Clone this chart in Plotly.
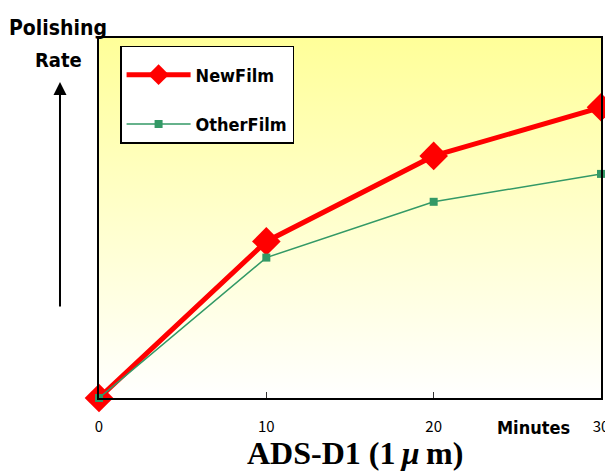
import plotly.graph_objects as go

minutes = [0, 10, 20, 30]
new_film = [0.0, 0.87, 1.345, 1.615]
other_film = [0.0, 0.78, 1.09, 1.245]
x_ticks = [0, 10, 20, 30]

fig = go.Figure()

# gradient background (yellow top -> white bottom)
fig.add_trace(go.Scatter(
    x=[0, 30, 30, 0, 0], y=[0, 0, 2, 2, 0], mode="none", fill="toself",
    fillgradient=dict(type="vertical", colorscale=[[0, "#FFFFFF"], [1, "#FFFF99"]]),
    hoverinfo="skip", showlegend=False))

fig.add_trace(go.Scatter(
    x=minutes, y=new_film, name="NewFilm", mode="lines+markers",
    line=dict(color="#FF0000", width=5),
    marker=dict(symbol="diamond", size=22, color="#FF0000"),
    cliponaxis=False, legendgroup="a"))
fig.add_trace(go.Scatter(
    x=minutes, y=other_film, name="OtherFilm", mode="lines+markers",
    line=dict(color="#339966", width=1.5),
    marker=dict(symbol="square", size=8, color="#339966"),
    cliponaxis=False, legendgroup="b"))

GOTHIC = "DejaVu Sans Condensed, DejaVu Sans"

fig.update_layout(
    width=613, height=473,
    margin=dict(l=91, r=20, t=30, b=83),
    paper_bgcolor="white", plot_bgcolor="white",
    font=dict(family="Noto Sans CJK JP", color="black"),
    showlegend=True,
    legend=dict(x=0.042, y=0.978, xanchor="left", yanchor="top",
                bgcolor="white", bordercolor="black", borderwidth=1.5,
                font=dict(size=18, family=GOTHIC, weight="bold"),
                title=dict(text=" ", font=dict(size=7)),
                tracegroupgap=23, itemwidth=64),
    xaxis=dict(range=[0, 30], tickvals=x_ticks, ticks="inside", ticklen=6,
               tickcolor="#333", showline=True, linecolor="black", linewidth=2,
               mirror=True, showgrid=False, zeroline=False,
               ticklabelstandoff=14,
               tickfont=dict(size=15, family="Noto Sans CJK JP")),
    yaxis=dict(range=[0, 2], dtick=1, showticklabels=False, ticks="",
               showline=True, linecolor="black", linewidth=2, mirror=True,
               showgrid=True, gridcolor="black", gridwidth=1.5, zeroline=False),
)

fig.add_annotation(text="Polishing", xref="paper", yref="paper", x=-0.082, y=1.028,
                   xanchor="center", yanchor="middle",
                   showarrow=False, font=dict(size=21, family=GOTHIC, weight="bold"))
fig.add_annotation(text="Rate", xref="paper", yref="paper", x=-0.08, y=0.939,
                   xanchor="center", yanchor="middle",
                   showarrow=False, font=dict(size=20, family=GOTHIC, weight="bold"))
fig.add_annotation(text="", xref="paper", yref="paper", x=-0.0777, y=0.878,
                   ax=0, ay=226, showarrow=True, arrowhead=2, arrowsize=1.3,
                   arrowwidth=2, arrowcolor="black")
fig.add_annotation(text="Minutes", xref="paper", yref="paper", x=0.866, y=-0.081,
                   xanchor="center", yanchor="middle",
                   showarrow=False, font=dict(size=18, family=GOTHIC, weight="bold"))
fig.add_annotation(text="ADS-D1 (1\u2009<i>μ</i>\u2009m)",
                   xref="paper", yref="paper", x=0.51, y=-0.152,
                   xanchor="center", yanchor="middle",
                   showarrow=False, font=dict(size=32, family="Liberation Serif", weight="bold"))

fig.write_html("out.html")
